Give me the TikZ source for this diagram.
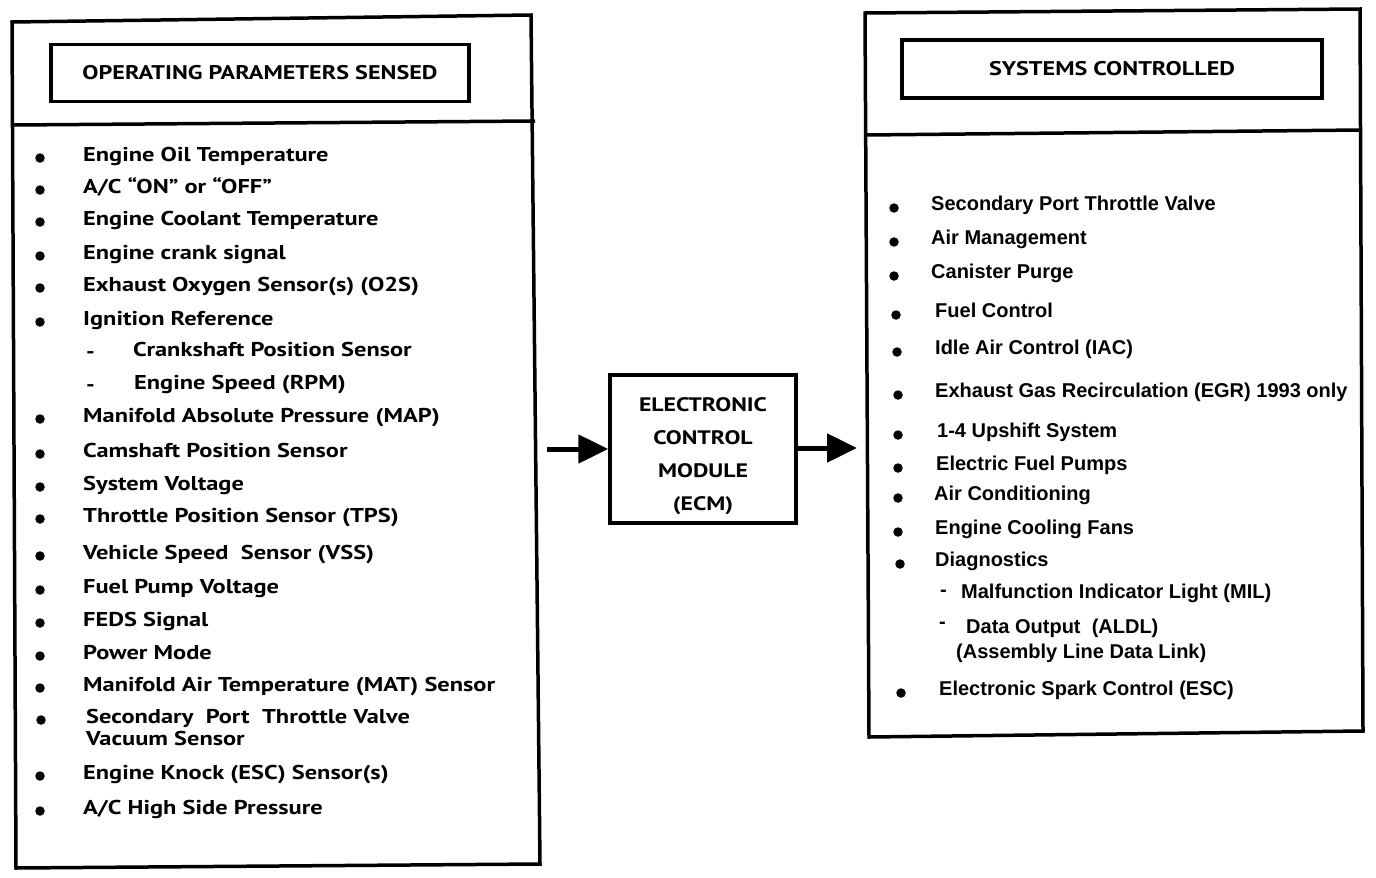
\documentclass[tikz,border=0pt]{standalone}
\usepackage{fontspec}
\setmainfont{PT Sans}
\newfontfamily\lfont[FakeStretch=1.22,Ligatures=TeX]{PT Sans}
\newfontfamily\arialfont{Liberation Sans}
\usetikzlibrary{arrows.meta}
\begin{document}
\begin{tikzpicture}[x=1pt,y=-1pt,
  frame/.style={draw=black,line width=3.5pt,line join=miter},
  ltxt/.style={anchor=mid west,inner sep=0pt,font=\fontsize{20}{22}\selectfont\lfont\bfseries},
  rtxt/.style={anchor=mid west,inner sep=0pt,font=\fontsize{20}{24}\selectfont\arialfont\bfseries},
  ttxt/.style={font=\fontsize{19.8}{20}\selectfont\lfont\bfseries},
  dot/.style={circle,fill=black,inner sep=0pt,minimum size=9.5pt},
  bigarrow/.style={line width=5pt,-{Triangle[length=30pt,width=28pt]}}]
\useasboundingbox (0,0) rectangle (1376,878);
% left panel
\draw[frame] (12,22) -- (531,15) -- (540,864) -- (16,868) -- cycle;
\draw[frame] (14,125) -- (535,121);
\node[frame,ttxt,minimum width=418pt,minimum height=57pt,inner sep=0pt] (ltitle) at (260,73) {OPERATING PARAMETERS SENSED};
% right panel
\draw[frame] (865,13) -- (1360,9) -- (1363,731) -- (869,737) -- cycle;
\draw[frame] (866,135) -- (1361,130);
\node[frame,ttxt,minimum width=420pt,minimum height=58pt,inner sep=0pt] (rtitle) at (1112,69) {SYSTEMS CONTROLLED};
% ECM
\node[frame,minimum width=186pt,minimum height=148pt,inner sep=0pt] (ecm) at (703,449) {};
\node[align=center,inner sep=0pt,font=\fontsize{19.5}{33}\selectfont\lfont\bfseries] (ecmtext) at (703,456)
  {ELECTRONIC\\CONTROL\\MODULE\\(ECM)};
\coordinate (ain) at (547,449);
\coordinate (aout) at (857,448);
\draw[bigarrow] (ain) -- (ecm.west);
\draw[bigarrow] (ecm.east |- aout) -- (aout);
% left list
\foreach \y/\t/\n in {159/Engine Oil Temperature/1, 191/{A/C “ON” or “OFF”}/2,
  223/Engine Coolant Temperature/3, 257/Engine crank signal/4,
  289/Exhaust Oxygen Sensor(s) (O2S)/5, 323/Ignition Reference/6,
  420/Manifold Absolute Pressure (MAP)/9, 455/Camshaft Position Sensor/10,
  488/System Voltage/11, 520/Throttle Position Sensor (TPS)/12,
  557/Vehicle Speed\ \ Sensor (VSS)/13, 591/Fuel Pump Voltage/14,
  624/FEDS Signal/15, 657/Power Mode/16,
  689/Manifold Air Temperature (MAT) Sensor/17,
  777/Engine Knock (ESC) Sensor(s)/19, 812/{A/C High Side Pressure}/20}
{
  \node[dot] (lb\n) at (40,\y-1) {};
  \node[ltxt] (lt\n) at (83,\y) {\t};
}
\node[ltxt] (ld7) at (86,356) {-};
\node[ltxt] (lt7) at (133,354) {Crankshaft Position Sensor};
\node[ltxt] (ld8) at (86,389) {-};
\node[ltxt] (lt8) at (134,387) {Engine Speed (RPM)};
\node[dot] (lb18) at (41,720) {};
\node[ltxt,align=left,anchor=north west] (lt18) at (86,709)
  {Secondary\ \ Port\ \ Throttle Valve\\Vacuum Sensor};
% right list
\foreach \x/\bx/\y/\t/\n in {931/894/208/Secondary Port Throttle Valve/1,
  931/894/242/Air Management/2, 931/894/276/Canister Purge/3,
  935/896/315/Fuel Control/4, 935/897/352/Idle Air Control (IAC)/5,
  935/898/395/Exhaust Gas Recirculation (EGR) 1993 only/6,
  937/898/435/1-4 Upshift System/7, 936/898/468/Electric Fuel Pumps/8,
  934/898/498/Air Conditioning/9, 935/898/532/Engine Cooling Fans/10,
  935/900/564/Diagnostics/11, 939/901/693/Electronic Spark Control (ESC)/15}
{
  \node[dot] (rb\n) at (\bx,\y) {};
  \node[rtxt] (rt\n) at (\x,\y) {\t};
}
\node[rtxt] (rd12) at (940,594) {-};
\node[rtxt] (rt12) at (961,596) {Malfunction Indicator Light (MIL)};
\node[rtxt] (rd13) at (939,626) {-};
\node[rtxt] (rt13) at (966,631) {Data Output\ \ (ALDL)};
\node[rtxt] (rt14) at (956,656) {(Assembly Line Data Link)};
\end{tikzpicture}
\end{document}
